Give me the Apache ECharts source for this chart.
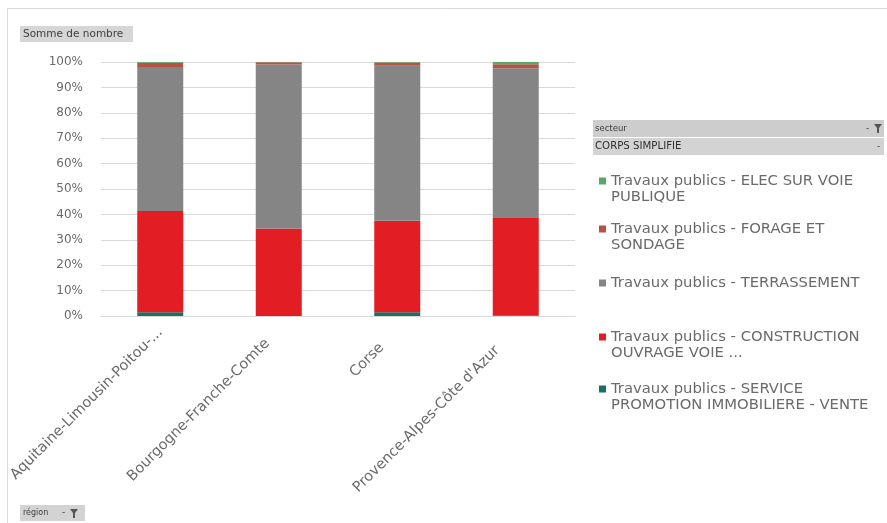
<!DOCTYPE html>
<html><head><meta charset="utf-8">
<script src="https://cdn.jsdelivr.net/npm/echarts@6/dist/echarts.min.js"></script>
<style>html,body{margin:0;padding:0;background:#fff}#c{width:887px;height:523px}</style>
</head><body><div id="c"></div>
<script>
const categories = ["Aquitaine-Limousin-Poitou-...", "Bourgogne-Franche-Comte", "Corse", "Provence-Alpes-Côte d'Azur"];
const seriesNames = [
  "Travaux publics - SERVICE PROMOTION IMMOBILIERE - VENTE",
  "Travaux publics - CONSTRUCTION OUVRAGE VOIE ...",
  "Travaux publics - TERRASSEMENT",
  "Travaux publics - FORAGE ET SONDAGE",
  "Travaux publics - ELEC SUR VOIE PUBLIQUE"
];
const legendLine1 = [
  "Travaux publics - SERVICE",
  "Travaux publics - CONSTRUCTION",
  "Travaux publics - TERRASSEMENT",
  "Travaux publics - FORAGE ET",
  "Travaux publics - ELEC SUR VOIE"
];
const legendLine2 = [
  "PROMOTION IMMOBILIERE - VENTE",
  "OUVRAGE VOIE ...",
  "",
  "SONDAGE",
  "PUBLIQUE"
];
const service = [1.5, 0.4, 1.5, 0.3];
const construction = [39.8, 34.0, 36.0, 38.3];
const terrassement = [56.7, 64.6, 61.0, 58.9];
const forage = [1.7, 0.9, 1.3, 1.6];
const elec = [0.3, 0.1, 0.2, 0.9];
const values = [service, construction, terrassement, forage, elec];
const colors = ["#1d6e64", "#e21d24", "#858585", "#b55440", "#55a868"];
const legendCenters = [389, 337, 283, 229, 181];
const labelShift = [0, 16, 22, 26];

const FONT = "DejaVu Sans";
const TXT = '#6a6a6a';
const chart = echarts.init(document.getElementById('c'), null, {renderer:'canvas'});

const series = seriesNames.map((n,i)=>({
  name:n, type:'bar', stack:'s', data: values[i], barWidth:46,
  itemStyle:{color:colors[i]}
}));
const legends = seriesNames.map((n,i)=>({
  data:[n], left:599, top:legendCenters[i]-8, orient:'vertical', padding:0,
  icon:'rect', itemWidth:7, itemHeight:7, itemGap:0,
  formatter: ()=>legendLine1[i],
  textStyle:{fontFamily:FONT, fontSize:14.8, color:TXT, lineHeight:16},
  selectedMode:false
}));
const line2 = legendLine2.map((t,i)=>({
  type:'text', x:611, y:legendCenters[i]+16,
  style:{text:t, fontFamily:FONT, fontSize:14.8, fill:TXT, verticalAlign:'middle'}
}));
const rich = {};
labelShift.forEach((p,i)=>{ rich['s'+i] = {fontFamily:FONT, fontSize:14.5, color:TXT, padding:[0,p,0,0]}; });

function funnel(x,y){
  return {type:'polygon', shape:{points:[[x,y],[x+8,y],[x+5,y+4],[x+5,y+9],[x+3,y+9],[x+3,y+4]]}, style:{fill:'#555'}};
}

chart.setOption({
  animation:false,
  grid:{left:101, right:312, top:62, bottom:207},
  xAxis:{type:'category', data:categories,
    axisLine:{lineStyle:{color:'#d9d9d9'}}, axisTick:{show:false},
    axisLabel:{rotate:45, interval:0, fontFamily:FONT, fontSize:14.5, color:TXT, margin:14,
      formatter:(v,i)=>'{s'+i+'|'+v+'}', rich:rich}},
  yAxis:{type:'value', min:0, max:100, interval:10,
    axisLabel:{formatter:'{value}%', fontFamily:FONT, fontSize:12, color:TXT, margin:18},
    splitLine:{lineStyle:{color:'#d9d9d9'}}, axisLine:{show:false}, axisTick:{show:false}},
  legend: legends,
  series: series,
  graphic:[
    {type:'rect', shape:{x:7.5,y:8.5,width:900,height:600}, style:{fill:'none', stroke:'#d9d9d9'}, silent:true},
    {type:'rect', shape:{x:20,y:26,width:113,height:16}, style:{fill:'#d6d6d6'}},
    {type:'text', x:23, y:34, style:{text:'Somme de nombre', fontFamily:FONT, fontSize:10.5, fill:'#404040', verticalAlign:'middle'}},
    {type:'rect', shape:{x:593,y:120,width:291,height:17}, style:{fill:'#cdcdcd'}},
    {type:'text', x:595, y:128.5, style:{text:'secteur', fontFamily:FONT, fontSize:8.5, fill:'#404040', verticalAlign:'middle'}},
    {type:'text', x:866, y:128.5, style:{text:'-', fontFamily:FONT, fontSize:9, fill:'#404040', verticalAlign:'middle'}},
    funnel(874,124),
    {type:'rect', shape:{x:593,y:138,width:291,height:17}, style:{fill:'#d3d3d3'}},
    {type:'text', x:595, y:146.5, style:{text:'CORPS SIMPLIFIE', fontFamily:FONT, fontSize:10.2, fill:'#303030', verticalAlign:'middle'}},
    {type:'text', x:877, y:146.5, style:{text:'-', fontFamily:FONT, fontSize:9, fill:'#404040', verticalAlign:'middle'}},
    {type:'rect', shape:{x:20,y:505,width:65,height:16}, style:{fill:'#d3d3d3'}},
    {type:'text', x:23, y:513, style:{text:'région', fontFamily:FONT, fontSize:8, fill:'#404040', verticalAlign:'middle'}},
    {type:'text', x:62, y:513, style:{text:'-', fontFamily:FONT, fontSize:9, fill:'#404040', verticalAlign:'middle'}},
    funnel(70,509)
  ].concat(line2)
});
</script></body></html>
